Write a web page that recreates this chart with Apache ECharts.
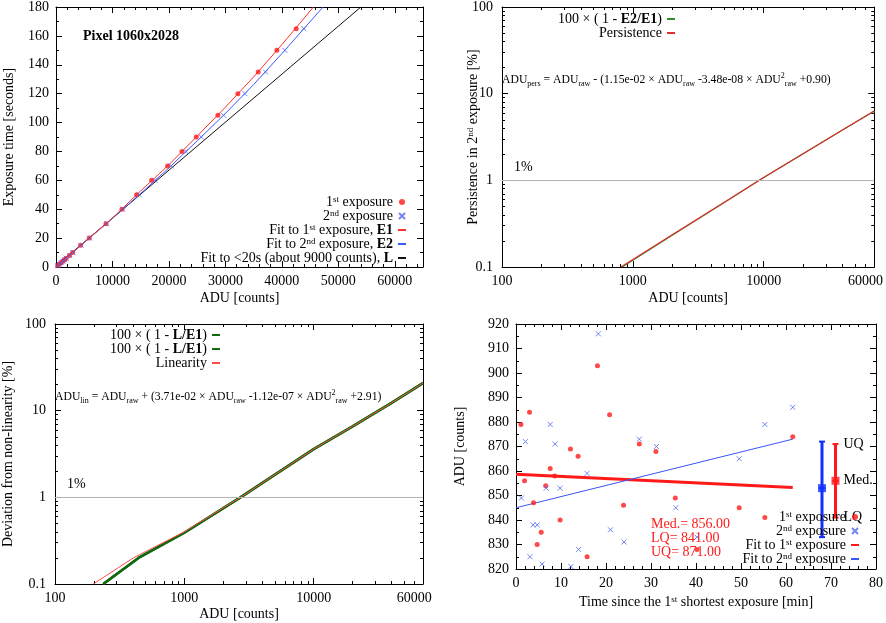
<!DOCTYPE html>
<html>
<head>
<meta charset="utf-8">
<script src="https://cdn.jsdelivr.net/npm/echarts@6/dist/echarts.min.js"></script>
<style>html,body{margin:0;background:#fff}#chart{width:886px;height:623px}</style>
</head>
<body>
<div id="chart"></div>
<script>
// ---------- 数据 ----------
// 左上：曝光时间 vs ADU
const expTime  = [1,2,3,4,5,6,8,10,15,20,30,40,50,60,70,80,90,105,120,135,150,165];
const adu1st   = [300,600,900,1200,1500,1800,2400,2950,4366,5900,8850,11681,14277,16932,19764,22300,24838,28673,32212,35810,39115,42540];
const adu2nd   = [310,610,910,1220,1520,1830,2430,3009,4425,5960,8968,11800,14749,17522,20413,23009,25723,29676,33451,37109,40531,43894];
const fitE1Adu = [0,5000,10000,15000,20000,25000,30000,35000,40000,45600];
const fitE1Sec = [0,17.1,33.9,52.7,70.8,90.6,110.6,131.6,153.9,180];
const fitE2Adu = [0,5000,10000,15000,20000,25000,30000,35000,40000,47300];
const fitE2Sec = [0,16.9,33.6,50.9,68.6,87.3,106.3,126.3,147.7,180];
const fitLAdu  = [0,54000];
const fitLSec  = [0.6,180];

// 右上：残留
const ratioAdu = [830,1000,2000,5000,10000,20000,40000,70000];
const ratioPct = [0.1,0.12,0.233,0.556,1.08,2.03,3.8,6.3];
const persAdu  = [809,1000,2000,5000,10000,20000,40000,70000];
const persPct  = [0.1,0.122,0.235,0.558,1.08,2.03,3.8,6.3];

// 左下：非线性
const devAdu   = [236,442,1000,2717,10000,20000,40000,70000];
const devPct   = [0.1,0.2,0.39,1,3.6,6.6,12.3,20.8];
const linAdu   = [198,403,1000,2717,10000,20000,40000,70000];
const linPct   = [0.1,0.2,0.4,1,3.6,6.6,12.3,20.8];

// 右下：暗场随时间
const time1st  = [1.1,1.9,3.0,3.9,4.7,5.6,6.6,7.6,8.6,9.8,12.1,13.8,15.8,18.1,20.8,23.9,27.4,31.1,35.4,40.2,49.6,55.3,61.5];
const dark1st  = [879,856,884,847,830,835,854,861,858,840,869,866,825,903,883,846,871,868,849,828,845,841,874];
const time2nd  = [1.2,2.1,3.1,3.8,4.7,5.8,6.7,7.6,8.7,9.8,12.2,13.9,15.8,18.3,21,24,27.4,31.2,35.5,40.2,49.6,55.3,61.5];
const dark2nd  = [849,872,825,838,838,822,853,879,871,853,821,828,859,916,836,831,873,870,845,833,865,879,886];
const fitTime  = [0,61.5];
const fit1stY  = [858.7,853.3];
const fit2ndY  = [845,873];
const boxTime  = [68,71];
const boxLQ    = [833,841];
const boxMed   = [853,856];
const boxUQ    = [872,871];

const logMajorX = [100,1000,10000];
const logLabelX = [100,1000,10000,60000];
const logMinorX = [200,300,400,500,600,700,800,900,2000,3000,4000,5000,6000,7000,8000,9000,20000,30000,40000,50000,60000];
const logMajorY = [0.1,1,10,100];
const logMinorY = [0.2,0.3,0.4,0.5,0.6,0.7,0.8,0.9,2,3,4,5,6,7,8,9,20,30,40,50,60,70,80,90];

// ---------- 样式 ----------
const FONT = 'Liberation Serif';
const RED = '#ff1a1a', BLUE = '#5068f0', GREEN = '#2e8b2e', DKGREEN = '#0f6a0f';
const CROSS = 'path://M0,0L10,10M10,0L0,10';
const pts = (xs, ys) => xs.map((x, i) => [x, ys[i]]);
const fmt = v => v >= 1 ? String(Math.round(v)) : String(+v.toPrecision(3));

const richTxt = {
  s: {fontFamily: FONT, fontSize: 9, lineHeight: 9, verticalAlign: 'top'},
  b: {fontFamily: FONT, fontSize: 14, fontWeight: 'bold', lineHeight: 14}
};
const tick = len => ({show: true, inside: true, length: len, lineStyle: {color: '#000', width: 1}});
const axLine = {onZero: false, lineStyle: {color: '#000', width: 1}};
const lbl = margin => ({color: '#000', fontFamily: FONT, fontSize: 14, margin, formatter: fmt});
const nm = (name, gap) => ({name, nameLocation: 'middle', nameGap: gap, nameMoveOverlap: false,
  nameTextStyle: {color: '#000', fontFamily: FONT, fontSize: 14, rich: richTxt}});

const xAxis = [], yAxis = [];
function valAxes(list, grid, pos, flip, sc, label, name){
  const base = {type: 'value', gridIndex: grid, min: sc[0], max: sc[1], interval: sc[2],
    splitLine: {show: false}, axisLine: axLine, axisTick: tick(6),
    minorTick: {show: true, splitNumber: sc[3], length: 3, lineStyle: {color: '#000'}}};
  const i = list.length;
  list.push(Object.assign({}, base, {position: pos, axisLabel: label}, name));
  list.push(Object.assign({}, base, {position: flip, axisLabel: {show: false}}));
  return i;
}
function logAxes(list, grid, pos, flip, rng, majors, minors, label, name){
  const base = {type: 'log', gridIndex: grid, min: rng[0], max: rng[1], splitLine: {show: false}, minorTick: {show: false}};
  const i = list.length;
  list.push(Object.assign({}, base, {position: pos, axisLine: axLine, axisTick: Object.assign(tick(6), {customValues: majors}), axisLabel: label}, name));
  list.push(Object.assign({}, base, {position: pos, axisLine: {show: false}, axisTick: Object.assign(tick(3), {customValues: minors}), axisLabel: {show: false}}));
  list.push(Object.assign({}, base, {position: flip, axisLine: axLine, axisTick: Object.assign(tick(6), {customValues: majors}), axisLabel: {show: false}}));
  list.push(Object.assign({}, base, {position: flip, axisLine: {show: false}, axisTick: Object.assign(tick(3), {customValues: minors}), axisLabel: {show: false}}));
  return i;
}

const X0 = valAxes(xAxis, 0, 'bottom', 'top', [0,65000,10000,5], Object.assign(lbl(7), {showMaxLabel: false}), nm('ADU [counts]', 24));
const Y0 = valAxes(yAxis, 0, 'left', 'right', [0,180,20,2], lbl(7), nm('Exposure time [seconds]', 40));
const X1 = logAxes(xAxis, 1, 'bottom', 'top', [100,70000], logMajorX, logMinorX, Object.assign(lbl(7), {customValues: logLabelX}), nm('ADU [counts]', 24));
const Y1 = logAxes(yAxis, 1, 'left', 'right', [0.1,100], logMajorY, logMinorY, Object.assign(lbl(9), {customValues: logMajorY}), nm('Persistence in 2{s|nd} exposure [%]', 22));
const X2 = logAxes(xAxis, 2, 'bottom', 'top', [100,70000], logMajorX, logMinorX, Object.assign(lbl(7), {customValues: logLabelX}), nm('ADU [counts]', 23));
const Y2 = logAxes(yAxis, 2, 'left', 'right', [0.1,100], logMajorY, logMinorY, Object.assign(lbl(9), {customValues: logMajorY}), nm('Deviation from non-linearity [%]', 40));
const X3 = valAxes(xAxis, 3, 'bottom', 'top', [0,80,10,5], lbl(7), nm('Time since the 1{s|st} shortest exposure [min]', 26));
const Y3 = valAxes(yAxis, 3, 'left', 'right', [820,920,10,2], lbl(7), nm('ADU [counts]', 49));

// ---------- 图例文字 ----------
const legendText = {
  p1a: '1{s|st} exposure', p1b: '2{s|nd} exposure',
  f1: 'Fit to 1{s|st} exposure, {b|E1}', f2: 'Fit to 2{s|nd} exposure, {b|E2}',
  fL: 'Fit to <20s (about 9000 counts), {b|L}',
  g2: '100 × ( 1 - {b|E2/E1})', r2: 'Persistence',
  g3a: '100 × ( 1 - {b|L/E1})', g3b: '100 × ( 1 - {b|L/E1})', r3: 'Linearity',
  p4a: '1{s|st} exposure', p4b: '2{s|nd} exposure', f4a: 'Fit to 1{s|st} exposure', f4b: 'Fit to 2{s|nd} exposure'
};
// 线条图例不画中间的点
const lineKeys = ['f1','f2','fL','g2','r2','g3a','g3b','r3','f4a','f4b'];
const legend = (keys, right, top) => ({
  data: keys.map(k => lineKeys.includes(k) ? {name: k, itemStyle: {opacity: 0}} : k),
  right, top, orient: 'vertical', align: 'right', itemWidth: 8, itemHeight: 6, itemGap: 0, padding: 0,
  selectedMode: false, formatter: n => legendText[n],
  textStyle: {fontFamily: FONT, fontSize: 14, color: '#000', lineHeight: 14, rich: richTxt}
});

// ---------- 系列 ----------
const on = (xi, yi) => ({xAxisIndex: xi, yAxisIndex: yi});
const dot = (name, xi, yi, data, color) => Object.assign({name, type: 'scatter', data, symbol: 'circle', symbolSize: 5, color, itemStyle: {color}}, on(xi, yi));
const cross = (name, xi, yi, data, color) => Object.assign({name, type: 'scatter', data, symbol: CROSS, symbolSize: 5, color,
  itemStyle: {color: 'transparent', borderColor: color, borderWidth: 1}}, on(xi, yi));
const curve = (name, xi, yi, data, color, width, z) => Object.assign({name, type: 'line', data, symbol: 'none',
  color, lineStyle: {color, width}, z: z || 2}, on(xi, yi));
const oneLine = {silent: true, symbol: 'none', lineStyle: {color: '#b4b4b4', width: 1, type: 'solid'},
  label: {position: 'insideStartTop', formatter: '1%', color: '#000', fontFamily: FONT, fontSize: 14, distance: [12, 6]},
  data: [{yAxis: 1}]};

const series = [
  curve('fL', X0, Y0, pts(fitLAdu, fitLSec), '#111', 1),
  curve('f2', X0, Y0, pts(fitE2Adu, fitE2Sec), '#3a5cff', 1),
  curve('f1', X0, Y0, pts(fitE1Adu, fitE1Sec), '#ff3030', 1),
  dot('p1a', X0, Y0, pts(adu1st, expTime), RED),
  cross('p1b', X0, Y0, pts(adu2nd, expTime), BLUE),

  Object.assign(curve('g2', X1, Y1, pts(ratioAdu, ratioPct), GREEN, 1.2), {markLine: oneLine}),
  curve('r2', X1, Y1, pts(persAdu, persPct), '#e03030', 1.2, 3),

  Object.assign(curve('g3a', X2, Y2, pts(devAdu, devPct), DKGREEN, 2.5), {markLine: oneLine}),
  curve('g3b', X2, Y2, pts(devAdu, devPct), DKGREEN, 2.5),
  curve('r3', X2, Y2, pts(linAdu, linPct), '#ff4a4a', 1, 3),

  curve('f4a', X3, Y3, pts(fitTime, fit1stY), RED, 3),
  curve('f4b', X3, Y3, pts(fitTime, fit2ndY), '#3a55f5', 1),
  dot('p4a', X3, Y3, pts(time1st, dark1st), RED),
  cross('p4b', X3, Y3, pts(time2nd, dark2nd), BLUE)
];
// 四分位误差棒：LQ - Med - UQ
const boxTags = ['LQ', 'Med.', 'UQ'];
['#1030ff', RED].forEach((c, i) => {
  series.push(Object.assign({type: 'line', z: 3,
    data: [[boxTime[i], boxLQ[i]], [boxTime[i], boxMed[i]], [boxTime[i], boxUQ[i]]],
    symbol: 'rect', symbolSize: [6, 2], lineStyle: {color: c, width: 3}, itemStyle: {color: c},
    label: {show: i === 1, position: 'right', distance: 5, color: '#000', fontFamily: FONT, fontSize: 14,
      formatter: p => boxTags[p.dataIndex]},
    labelLayout: {hideOverlap: false}}, on(X3, Y3)));
  series.push(Object.assign({type: 'scatter', z: 4, data: [[boxTime[i], boxMed[i]]], symbol: 'rect', symbolSize: 8,
    itemStyle: {color: c}}, on(X3, Y3)));
});

// ---------- 注释文字 ----------
const noteRich = {
  n: {fontFamily: FONT, fontSize: 11.7, lineHeight: 16},
  d: {fontFamily: FONT, fontSize: 8, lineHeight: 8, verticalAlign: 'bottom'},
  u: {fontFamily: FONT, fontSize: 8, lineHeight: 8, verticalAlign: 'top'}
};
const note = (x, y, text) => ({type: 'text', x, y, style: {text, rich: noteRich, fill: '#000',
  fontFamily: FONT, fontSize: 12, verticalAlign: 'middle'}});

const graphic = [
  {type: 'text', x: 83, y: 36, style: {text: 'Pixel 1060x2028', fill: '#000', fontFamily: FONT, fontSize: 14, fontWeight: 'bold', verticalAlign: 'middle'}},
  note(502, 80, '{n|ADU}{d|pers}{n| = ADU}{d|raw}{n| - (1.15e-02 × ADU}{d|raw}{n| -3.48e-08 × ADU}{u|2}{d|raw}{n| +0.90)}'),
  note(55, 397, '{n|ADU}{d|lin}{n| = ADU}{d|raw}{n| + (3.71e-02 × ADU}{d|raw}{n| -1.12e-07 × ADU}{u|2}{d|raw}{n| +2.91)}'),
  {type: 'text', x: 651, y: 517, style: {
    text: ['Med.= ' + boxMed[1].toFixed(2), 'LQ= ' + boxLQ[1].toFixed(2), 'UQ= ' + boxUQ[1].toFixed(2)].join('\n'),
    fill: RED, fontFamily: FONT, fontSize: 14, lineHeight: 14}}
];

const chart = echarts.init(document.getElementById('chart'));
chart.setOption({
  animation: false,
  backgroundColor: '#fff',
  grid: [
    {left: 56, top: 7, width: 367, height: 260},
    {left: 502, top: 7, width: 374, height: 260},
    {left: 55, top: 324, width: 368, height: 260},
    {left: 516, top: 324, width: 360, height: 245}
  ],
  xAxis, yAxis,
  legend: [
    legend(['p1a','p1b','f1','f2','fL'], 479, 195),
    legend(['g2','r2'], 210, 12),
    legend(['g3a','g3b','r3'], 665, 328),
    legend(['p4a','p4b','f4a','f4b'], 26, 510)
  ],
  graphic,
  series
});
</script>
</body>
</html>
